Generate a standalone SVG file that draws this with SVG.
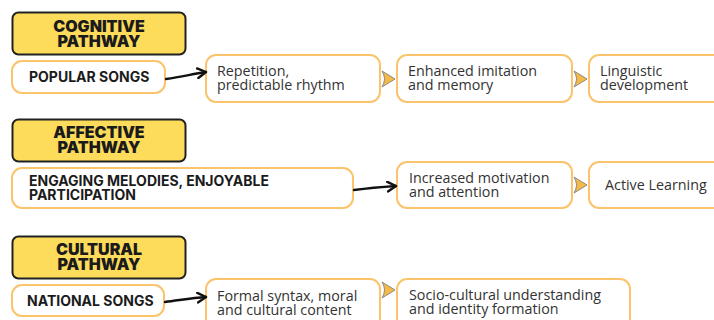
<svg xmlns="http://www.w3.org/2000/svg" width="714" height="320" viewBox="0 0 714 320">
  <style>
    .head rect { fill: #FDDC5C; stroke: #222; stroke-width: 2; }
    .head text { font-family: Inter, "Liberation Sans", sans-serif; font-weight: 900; font-size: 16px; fill: #1b1b1b; text-anchor: middle; }
    .src rect, .step rect { fill: #fff; stroke: #FBC36B; stroke-width: 2; }
    .src text { font-family: Inter, "Liberation Sans", sans-serif; font-weight: 700; font-size: 14px; fill: #1b1b1b; }
    .step text { font-family: "Open Sans", "Liberation Sans", sans-serif; font-size: 14.3px; fill: #333; }
    .link { fill: none; stroke: #111; stroke-width: 2.4; stroke-linecap: round; marker-end: url(#open); }
    .chev { fill: #F6B945; stroke: #8a8a8a; stroke-width: 1; stroke-linejoin: round; }
  </style>
  <defs>
    <marker id="open" viewBox="0 0 10 10" refX="8" refY="5" markerWidth="5" markerHeight="5" orient="auto" markerUnits="strokeWidth">
      <path d="M1,1 L8,5 L1,9" fill="none" stroke="#111" stroke-width="2" stroke-linecap="round" stroke-linejoin="round"/>
    </marker>
    <path id="chevron" d="M0,0 L13,8 L0,16 Q5,8 0,0 Z"/>
  </defs>

  <!-- Cognitive pathway -->
  <g id="cognitive-header" class="head">
    <rect x="12.5" y="12.5" width="173" height="42" rx="6"/>
    <text x="99" y="32">COGNITIVE</text>
    <text x="99" y="47">PATHWAY</text>
  </g>
  <g id="popular-songs" class="src">
    <rect x="12" y="61" width="153" height="32" rx="10"/>
    <text x="29" y="82">POPULAR SONGS</text>
  </g>
  <g id="repetition" class="step">
    <rect x="206" y="55" width="174" height="47" rx="10"/>
    <text x="217" y="76">Repetition,</text>
    <text x="217" y="90">predictable rhythm</text>
  </g>
  <g id="imitation" class="step">
    <rect x="397" y="55" width="175" height="47" rx="10"/>
    <text x="408" y="76">Enhanced imitation</text>
    <text x="408" y="90">and memory</text>
  </g>
  <g id="linguistic" class="step">
    <rect x="589" y="55" width="140" height="47" rx="10"/>
    <text x="600" y="76">Linguistic</text>
    <text x="600" y="90">development</text>
  </g>

  <!-- Affective pathway -->
  <g id="affective-header" class="head">
    <rect x="12.5" y="119.5" width="173" height="42" rx="6"/>
    <text x="99" y="138">AFFECTIVE</text>
    <text x="99" y="153">PATHWAY</text>
  </g>
  <g id="melodies" class="src">
    <rect x="12" y="168" width="341" height="40" rx="10"/>
    <text x="29" y="186">ENGAGING MELODIES, ENJOYABLE</text>
    <text x="29" y="200">PARTICIPATION</text>
  </g>
  <g id="motivation" class="step">
    <rect x="397" y="162" width="175" height="46" rx="10"/>
    <text x="409" y="183">Increased motivation</text>
    <text x="409" y="197">and attention</text>
  </g>
  <g id="active-learning" class="step">
    <rect x="589" y="162" width="140" height="46" rx="10"/>
    <text x="605" y="190">Active Learning</text>
  </g>

  <!-- Cultural pathway -->
  <g id="cultural-header" class="head">
    <rect x="12.5" y="236.5" width="173" height="42" rx="6"/>
    <text x="99" y="255">CULTURAL</text>
    <text x="99" y="270">PATHWAY</text>
  </g>
  <g id="national-songs" class="src">
    <rect x="12" y="285" width="152" height="31" rx="10"/>
    <text x="27" y="306">NATIONAL SONGS</text>
  </g>
  <g id="syntax" class="step">
    <rect x="206" y="279" width="174" height="50" rx="10"/>
    <text x="217" y="301">Formal syntax, moral</text>
    <text x="217" y="315">and cultural content</text>
  </g>
  <g id="identity" class="step">
    <rect x="397" y="279" width="233" height="50" rx="10"/>
    <text x="409" y="300">Socio-cultural understanding</text>
    <text x="409" y="314">and identity formation</text>
  </g>

  <!-- Connectors -->
  <g id="connectors">
    <path class="link" d="M166,79 C182,77 192,74 206,72"/>
    <path class="link" d="M354,190 C370,188 382,187 396,186"/>
    <path class="link" d="M165,302 C181,300 192,298 206,297"/>
    <use href="#chevron" class="chev" x="382" y="71"/>
    <use href="#chevron" class="chev" x="574" y="71"/>
    <use href="#chevron" class="chev" x="574" y="177"/>
    <use href="#chevron" class="chev" x="382" y="282"/>
  </g>
</svg>
